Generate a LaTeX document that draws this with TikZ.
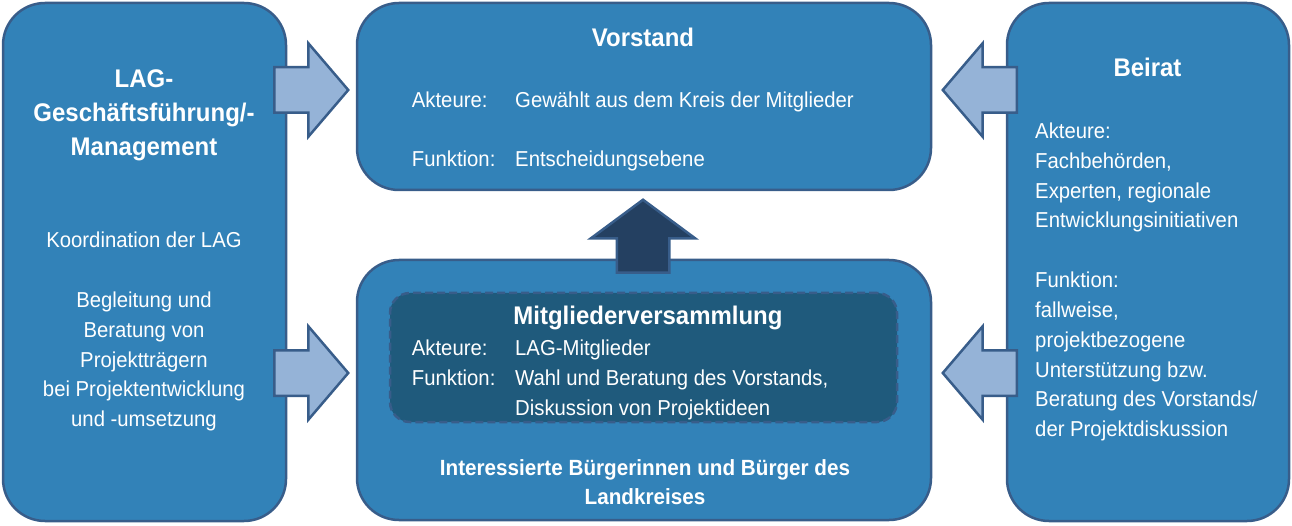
\documentclass[tikz,border=0pt]{standalone}
\usepackage{fontspec}
\setmainfont{Liberation Sans}[FakeStretch=0.94]
\usetikzlibrary{shapes.arrows}
\pgfdeclarelayer{boxlayer}
\pgfsetlayers{boxlayer,main}
\definecolor{boxblue}{RGB}{50,130,184}
\definecolor{edgeblue}{RGB}{56,93,138}
\definecolor{lightarrow}{RGB}{149,179,215}
\definecolor{darkarrow}{RGB}{36,64,97}
\definecolor{innerblue}{RGB}{31,90,124}
\tikzstyle{panel}=[rectangle, rounded corners=42pt, fill=boxblue, draw=edgeblue, line width=2.5]
\tikzstyle{core}=[rectangle, rounded corners=20pt, fill=innerblue, draw=edgeblue, line width=2.5, dash pattern=on 8pt off 4pt]
\tikzstyle{sidearrow}=[single arrow, fill=lightarrow, draw=edgeblue, line width=2.5, inner xsep=0, inner ysep=21.5, minimum height=74, single arrow head extend=24, single arrow tip angle=99]
\tikzstyle{uparrow}=[sidearrow, fill=darkarrow, rotate=90, inner ysep=25, minimum height=73, single arrow head extend=26, single arrow tip angle=107]
\tikzstyle{txt}=[text=white, inner sep=0, font=\fontsize{21.6}{29.8}\selectfont]
\tikzstyle{heading}=[text=white, inner sep=0, align=center, font=\bfseries\fontsize{25.5}{34.3}\selectfont]
\tikzstyle{foot}=[text=white, inner sep=0, align=center, font=\bfseries\fontsize{22}{29}\selectfont]

\begin{document}
\begin{tikzpicture}[x=1pt, y=-1pt]
            \useasboundingbox (0, 0) rectangle (1292, 526);
            \begin{pgfonlayer}{boxlayer}
                \node [style=panel, minimum width=283, minimum height=518] (lag) at (144.5, 262) {};
                \node [style=panel, minimum width=574, minimum height=187] (vorstand) at (644, 96.5) {};
                \node [style=panel, minimum width=574, minimum height=260] (mv) at (644, 390) {};
                \node [style=panel, minimum width=282, minimum height=518] (beirat) at (1148, 262) {};
                \node [style=core, minimum width=507, minimum height=129] (mvcore) at (643.5, 357.5) {};
            \end{pgfonlayer}
            \node [style=sidearrow, anchor=tail] (lagtop) at (273, 90) {};
            \node [style=sidearrow, anchor=tail] (lagbottom) at (273, 373) {};
            \node [style=sidearrow, rotate=180, anchor=tail] (beirattop) at (1018, 90) {};
            \node [style=sidearrow, rotate=180, anchor=tail] (beiratbottom) at (1018, 373) {};
            \node [style=uparrow, anchor=tail] (mvup) at (643, 274) {};
            \node [style=heading, anchor=base] (lagtitle) at (144, 156) {LAG-\\Geschäftsführung/-\\Management};
            \node [style=txt, align=center, anchor=base] (lagtext) at (144, 426.7) {Koordination der LAG\\[29.8pt]Begleitung und\\Beratung von\\Projektträgern\\bei Projektentwicklung\\und -umsetzung};
            \node [style=heading, anchor=base] (vtitle) at (643, 46.7) {Vorstand};
            \node [style=txt, anchor=base west] (vakt) at (411.7, 107.3) {Akteure:};
            \node [style=txt, anchor=base west] (vaktval) at (515, 107.3) {Gewählt aus dem Kreis der Mitglieder};
            \node [style=txt, anchor=base west] (vfkt) at (411.7, 166.7) {Funktion:};
            \node [style=txt, anchor=base west] (vfktval) at (515, 166.7) {Entscheidungsebene};
            \node [style=heading, anchor=base] (mvtitle) at (648, 325) {Mitgliederversammlung};
            \node [style=txt, anchor=base west] (mvakt) at (411.7, 355) {Akteure:};
            \node [style=txt, anchor=base west] (mvaktval) at (515, 355) {LAG-Mitglieder};
            \node [style=txt, anchor=base west] (mvfkt) at (411.7, 385) {Funktion:};
            \node [style=txt, align=left, anchor=base west] (mvfktval) at (515, 415) {Wahl und Beratung des Vorstands,\\Diskussion von Projektideen};
            \node [style=foot, anchor=base] (mvfoot) at (645, 504) {Interessierte Bürgerinnen und Bürger des\\Landkreises};
            \node [style=heading, anchor=base] (btitle) at (1147.5, 76.7) {Beirat};
            \node [style=txt, align=left, anchor=base west] (btext) at (1035, 436.7) {Akteure:\\Fachbehörden,\\Experten, regionale\\Entwicklungsinitiativen\\[30pt]Funktion:\\fallweise,\\projektbezogene\\Unterstützung bzw.\\Beratung des Vorstands/\\der Projektdiskussion};
        \end{tikzpicture}
\end{document}
